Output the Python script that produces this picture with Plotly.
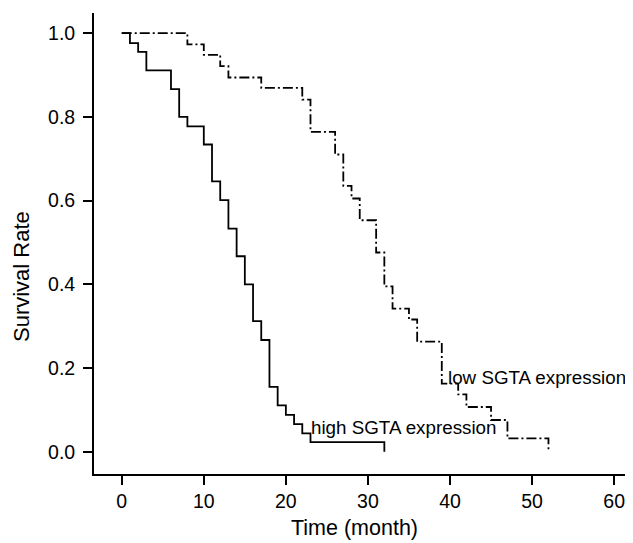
import plotly.graph_objects as go

# High SGTA expression (solid step curve)
high_time = [0, 1, 2, 3, 6, 7, 8, 10, 11, 12, 13, 14, 15, 16, 17, 18, 19, 20, 21, 22, 23, 32]
high_surv = [1.0, 0.976, 0.955, 0.911, 0.866, 0.800, 0.777, 0.734, 0.646, 0.601, 0.533, 0.467,
             0.400, 0.312, 0.267, 0.155, 0.111, 0.088, 0.066, 0.044, 0.023, 0.0]

# Low SGTA expression (dash-dot step curve)
low_time = [0, 8, 10, 12, 13, 17, 22, 23, 26, 27, 28, 29, 31, 32, 33, 35, 36, 39, 41, 42, 45, 47, 52]
low_surv = [1.0, 0.973, 0.948, 0.921, 0.894, 0.869, 0.841, 0.764, 0.710, 0.635, 0.605, 0.553,
            0.476, 0.395, 0.342, 0.316, 0.263, 0.163, 0.137, 0.107, 0.076, 0.032, 0.0]

x_ticks = [0, 10, 20, 30, 40, 50, 60]
y_ticks = [0.0, 0.2, 0.4, 0.6, 0.8, 1.0]
y_tick_labels = ["0.0", "0.2", "0.4", "0.6", "0.8", "1.0"]

font_family = "Arial, Liberation Sans, sans-serif"

fig = go.Figure()
fig.add_trace(go.Scatter(x=high_time, y=high_surv, mode="lines", line_shape="hv",
                         line=dict(color="black", width=1.8), showlegend=False,
                         name="high SGTA expression"))
fig.add_trace(go.Scatter(x=low_time, y=low_surv, mode="lines", line_shape="hv",
                         line=dict(color="black", width=1.8, dash="10px,3px,2px,3px"),
                         showlegend=False, name="low SGTA expression"))

fig.add_annotation(x=39.55, y=0.178, xref="x", yref="y", text="low SGTA expression",
                   showarrow=False, xanchor="left", yanchor="middle",
                   font=dict(family=font_family, size=18.8, color="black"))
fig.add_annotation(x=22.85, y=0.058, xref="x", yref="y", text="high SGTA expression",
                   showarrow=False, xanchor="left", yanchor="middle",
                   font=dict(family=font_family, size=18.8, color="black"))

# Axis titles as annotations for exact placement
fig.add_annotation(x=0.4833, y=-0.1178, xref="paper", yref="paper", text="Time (month)",
                   showarrow=False, xanchor="center", yanchor="middle",
                   font=dict(family=font_family, size=21.5, color="black"))
fig.add_annotation(x=-0.1354, y=0.4273, xref="paper", yref="paper", text="Survival Rate",
                   showarrow=False, xanchor="center", yanchor="middle", textangle=-90,
                   font=dict(family=font_family, size=22, color="black"))

# The page body has an 8px margin; compensate so the plot lands where the reference has it.
fig.update_layout(
    width=625, height=535,
    margin=dict(l=86, r=0, t=5, b=69, autoexpand=False),
    paper_bgcolor="white", plot_bgcolor="white",
    font=dict(family=font_family, color="black"),
    xaxis=dict(range=[-3.38, 62.3], tickvals=x_ticks, ticks="outside", ticklen=9,
               tickwidth=1.8, tickcolor="black", showline=True, linecolor="black",
               linewidth=1.8, showgrid=False, zeroline=False, automargin=False,
               tickfont=dict(size=19.5, family=font_family, color="black")),
    yaxis=dict(range=[-0.053, 1.048], tickvals=y_ticks, ticktext=y_tick_labels, ticks="outside",
               ticklen=9, tickwidth=1.8, tickcolor="black", showline=True, linecolor="black",
               linewidth=1.8, showgrid=False, zeroline=False, automargin=False,
               ticklabelstandoff=4,
               tickfont=dict(size=19.5, family=font_family, color="black")),
)

fig.write_html("out.html")
